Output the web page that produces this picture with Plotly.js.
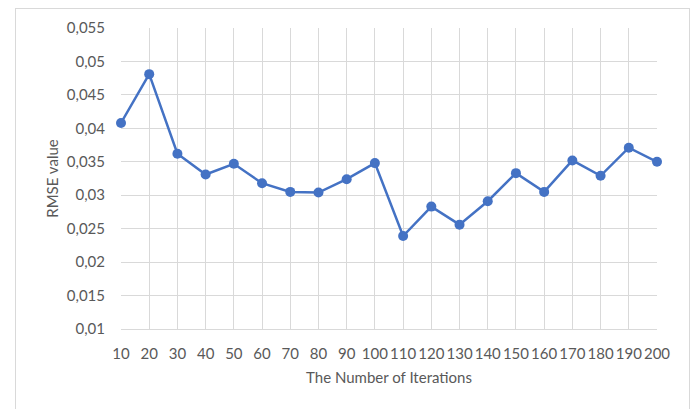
<!DOCTYPE html>
<html>
<head>
<meta charset="utf-8">
<script src="https://cdn.plot.ly/plotly-3.0.1.min.js"></script>
<style>
  html, body { margin: 0; padding: 0; background: #ffffff; }
  #wrap { position: relative; width: 695px; height: 409px; overflow: hidden; }
  #frame { position: absolute; left: 15px; top: 8px; width: 675px; height: 420px; border: 1px solid #d9d9d9; box-sizing: border-box; }
  #chart { position: absolute; left: 0; top: 0; width: 695px; height: 409px; }
</style>
</head>
<body>
<div id="wrap">
  <div id="frame"></div>
  <div id="chart"></div>
</div>
<script>
const iterations = [10, 20, 30, 40, 50, 60, 70, 80, 90, 100, 110, 120, 130, 140, 150, 160, 170, 180, 190, 200];
const rmse = [0.0408, 0.0481, 0.0362, 0.0331, 0.0347, 0.0318, 0.0305, 0.0304, 0.0324, 0.0348, 0.0239, 0.0283, 0.0256, 0.0291, 0.0333, 0.0305, 0.0352, 0.0329, 0.0371, 0.0350];
const yTickVals = [0.01, 0.015, 0.02, 0.025, 0.03, 0.035, 0.04, 0.045, 0.05, 0.055];
const yTickText = ['0,01', '0,015', '0,02', '0,025', '0,03', '0,035', '0,04', '0,045', '0,05', '0,055'];
const xTitle = 'The Number of Iterations';
const yTitle = 'RMSE value';

const font = { family: 'Lato, sans-serif', size: 15, color: '#595959' };

const trace = {
  x: iterations,
  y: rmse,
  type: 'scatter',
  mode: 'lines+markers',
  cliponaxis: false,
  line: { color: '#4472C4', width: 2.5 },
  marker: { color: '#4472C4', size: 10 },
  hoverinfo: 'x+y'
};

const layout = {
  width: 695,
  height: 409,
  margin: { l: 121, r: 38, t: 28, b: 80 },
  paper_bgcolor: 'rgba(0,0,0,0)',
  plot_bgcolor: 'rgba(0,0,0,0)',
  showlegend: false,
  font: font,
  xaxis: {
    range: [10, 200],
    tickvals: iterations,
    ticktext: iterations.map(String),
    tickangle: 0,
    showgrid: true,
    gridcolor: '#d9d9d9',
    gridwidth: 1,
    zeroline: false,
    showline: true,
    linecolor: '#d9d9d9',
    linewidth: 1,
    ticks: '',
    ticklabelstandoff: 11,
    tickfont: font,
    title: { text: xTitle, font: font, standoff: 11 }
  },
  yaxis: {
    range: [0.01, 0.055],
    tickvals: yTickVals,
    ticktext: yTickText,
    showgrid: true,
    gridcolor: '#d9d9d9',
    gridwidth: 1,
    zeroline: false,
    showline: false,
    ticks: '',
    ticklabelstandoff: 15,
    tickfont: font,
    title: { text: yTitle, font: font, standoff: 4 }
  }
};

Plotly.newPlot('chart', [trace], layout, { staticPlot: true, displayModeBar: false });
</script>
</body>
</html>
